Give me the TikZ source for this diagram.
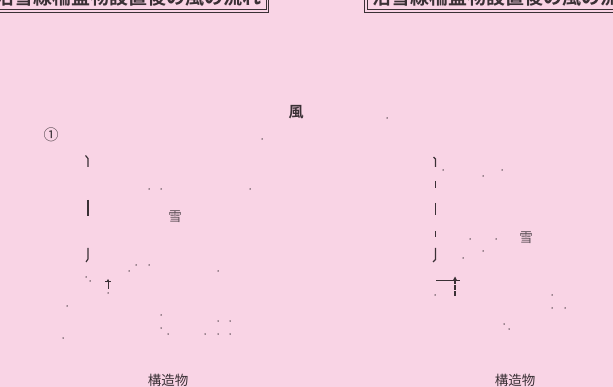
\documentclass[tikz,border=0pt]{standalone}
\usepackage{fontspec}
\newfontfamily\jpfont{Noto Sans CJK JP}[BoldFont={Noto Sans CJK JP Bold}]
\usetikzlibrary{arrows.meta,positioning}
\definecolor{bgpink}{HTML}{F9D4E5}
\definecolor{inkgray}{HTML}{3A3035}
\definecolor{snowgray}{HTML}{5A4E55}
\tikzset{
  label text/.style={font=\jpfont\fontsize{13.5}{14}\selectfont, text=inkgray, inner sep=0pt},
  title text/.style={font=\jpfont\bfseries\fontsize{19}{19}\selectfont, text=inkgray, inner sep=0pt},
  title frame/.style={draw=inkgray, line width=0.7pt},
  fence/.style={draw=inkgray, line width=1.2pt},
  speck/.style={fill=inkgray},
}
\begin{document}
\begin{tikzpicture}[x=1pt,y=-1pt]
    \fill[bgpink] (0,0) rectangle (613,387);
    \useasboundingbox (0,0) rectangle (613,387);
    \clip (0,0) rectangle (613,387);

    % Title boxes, cut off at the top
    \draw[title frame] (-20,-40) rectangle (266,9.5);
    \draw[title frame] (-20,-40) rectangle (268.5,12);
    \node[title text, anchor=base east] (titleL) at (262,4.5) {沿雪線柵盛物設置後の風の流れ};
    \draw[title frame] (367,-40) rectangle (640,9.5);
    \draw[title frame] (364.5,-40) rectangle (640,12);
    \node[title text, anchor=base west] (titleR) at (372,4.5) {沿雪線柵盛物設置後の風の流れ};

    % Labels
    \node[label text, font=\jpfont\bfseries\fontsize{15}{15}\selectfont] (wind) at (296,112) {風};
    \node[label text, font=\jpfont\fontsize{15}{15}\selectfont] (num) at (51,135) {①};
    \node[label text, text=snowgray] (snowL) at (175,217) {雪};
    \node[label text, text=snowgray] (snowR) at (526,238) {雪};
    \node[label text] (buildL) at (168,380) {構造物};
    \node[label text] (buildR) at (515,380) {構造物};

    % Left fence
    \draw[fence] (85.5,155.5) -- (88,158.5) -- (88,167);
    \draw[fence] (88,200) -- (88,216);
    \draw[fence] (88,248) -- (88,259) -- (86,262);

    % Right fence
    \draw[fence] (433.5,157) -- (435.5,159) -- (435.5,167);
    \draw[fence] (435.5,181) -- (435.5,188);
    \draw[fence] (435.5,203) -- (435.5,215);
    \draw[fence] (435.5,231) -- (435.5,237);
    \draw[fence] (435.5,248) -- (435.5,259.5) -- (433,262);

    % Small upward arrows
    \coordinate (tailL) at (108,289);
    \coordinate (headL) at (108,279);
    \draw[inkgray, line width=0.8pt] (105,281) -- (111,281);
    \draw[inkgray, line width=0.9pt, -{Stealth[length=3pt,width=3pt]}] (tailL) -- (headL);
    \coordinate (tailR) at (455,296);
    \coordinate (headR) at (455,276.5);
    \draw[inkgray, line width=0.8pt] (436,280) -- (460,280);
    \draw[inkgray, line width=1.1pt, dash pattern=on 5pt off 1pt, -{Stealth[length=4pt,width=4pt]}] (tailR) -- (headR);

    % Scattered flow dots
    \foreach \x/\y in {262/139, 387/118, 149/189, 161/189, 250/189,
                       136/265, 149/265, 129/271, 218/271, 86/277, 90/281,
                       108/293, 67/306, 161/315, 161/328, 168/334, 63/338,
                       218/321, 230/321, 205/334, 218/334, 230/334,
                       443/170, 483/176, 502/170, 470/239, 496/239,
                       483/251, 463/258, 435/295, 552/295, 552/308,
                       565/308, 504/324, 509/329}
        \fill[speck] (\x,\y) circle (0.75);
\end{tikzpicture}
\end{document}
